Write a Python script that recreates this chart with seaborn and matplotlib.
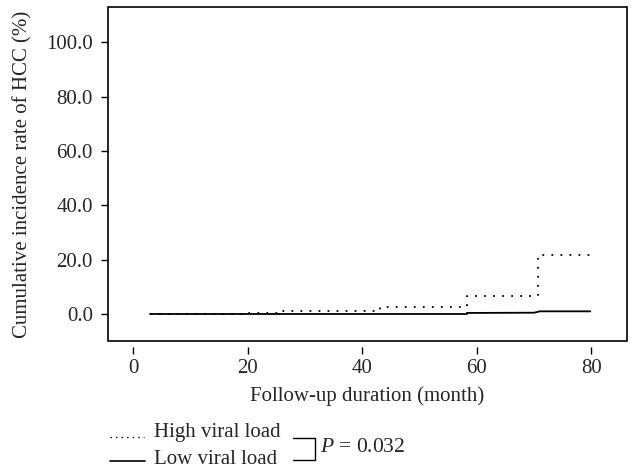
import numpy as np
import pandas as pd
import matplotlib
matplotlib.use("Agg")
import matplotlib.pyplot as plt
from matplotlib.lines import Line2D
from matplotlib.patches import Rectangle
import seaborn as sns

# Data (step curves)
high_months = [3.0, 20.0, 26.0, 43.0, 58.3, 70.6, 79.8]
high_rate = [0.0, 0.3, 1.1, 2.7, 6.7, 21.7, 21.7]
low_months = [3.0, 43.0, 58.3, 70.0, 71.0, 79.8]
low_rate = [0.0, 0.2, 0.4, 0.5, 1.0, 1.0]

x_ticks = [0, 20, 40, 60, 80]
y_ticks = [0.0, 20.0, 40.0, 60.0, 80.0, 100.0]
series_names = ["High viral load", "Low viral load"]
p_text = "$\\it{P}$ = 0.032"

sns.set_style("white")
plt.rcParams["font.family"] = ["Liberation Serif", "DejaVu Serif"]
plt.rcParams["mathtext.fontset"] = "custom"
plt.rcParams["mathtext.it"] = "Liberation Serif:italic"
plt.rcParams["mathtext.rm"] = "Liberation Serif"

FS = 15

fig = plt.figure(figsize=(6.32, 4.70), dpi=100)
ax = fig.add_axes([0.171, 0.274, 0.821, 0.711])

sns.lineplot(x=high_months, y=high_rate, ax=ax, drawstyle="steps-post",
             color="black", linestyle=(0, (1, 4)), linewidth=1.3, estimator=None)
sns.lineplot(x=low_months[:3], y=low_rate[:3], ax=ax, drawstyle="steps-post",
             color="black", linewidth=1.3, estimator=None)
# last part of the low curve rises gradually around month 70
sns.lineplot(x=low_months[2:], y=[low_rate[2]] + low_rate[3:], ax=ax,
             color="black", linewidth=1.3, estimator=None)

ax.set_xlim(-4.4, 86.2)
ax.set_ylim(-10, 113)
ax.set_xticks(x_ticks)
ax.set_xticklabels([str(v) for v in x_ticks])
ax.set_yticks(y_ticks)
ax.set_yticklabels([f"{v:.1f}" for v in y_ticks])

for s in ax.spines.values():
    s.set_visible(False)
ax.spines["bottom"].set_position(("outward", 4))
ax.add_patch(Rectangle((0, 0), 1, 1, transform=ax.transAxes, fill=False,
                       edgecolor="black", linewidth=1.2, clip_on=False, zorder=5))
ax.tick_params(axis="both", direction="out", length=5, width=1, color="black",
               labelsize=FS, bottom=True, left=True, pad=4)
ax.tick_params(axis="y", pad=6)
ax.set_xlabel("Follow-up duration (month)", fontsize=FS, labelpad=6)
ax.set_ylabel("Cumulative incidence rate of HCC (%)", fontsize=FS, labelpad=10)

# legend below the plot
W, H = 632, 470
def fx(px):
    return px / W
def fy(py):
    return 1 - py / H

fig.add_artist(Line2D([fx(110), fx(144)], [fy(436.5), fy(436.5)], color="black",
                      linestyle=(0, (1, 3)), linewidth=1.0))
fig.add_artist(Line2D([fx(110), fx(145)], [fy(461), fy(461)], color="black",
                      linewidth=1.2))
fig.text(fx(154), fy(433), series_names[0], fontsize=FS, va="center", ha="left")
fig.text(fx(154), fy(459), series_names[1], fontsize=FS, va="center", ha="left")
fig.add_artist(Line2D([fx(293), fx(315), fx(315), fx(293)],
                      [fy(438), fy(438), fy(460), fy(460)], color="black", linewidth=1.0))
fig.text(fx(320), fy(447), p_text, fontsize=FS + 0.5, va="center", ha="left")

fig.savefig("out.png", dpi=100)
